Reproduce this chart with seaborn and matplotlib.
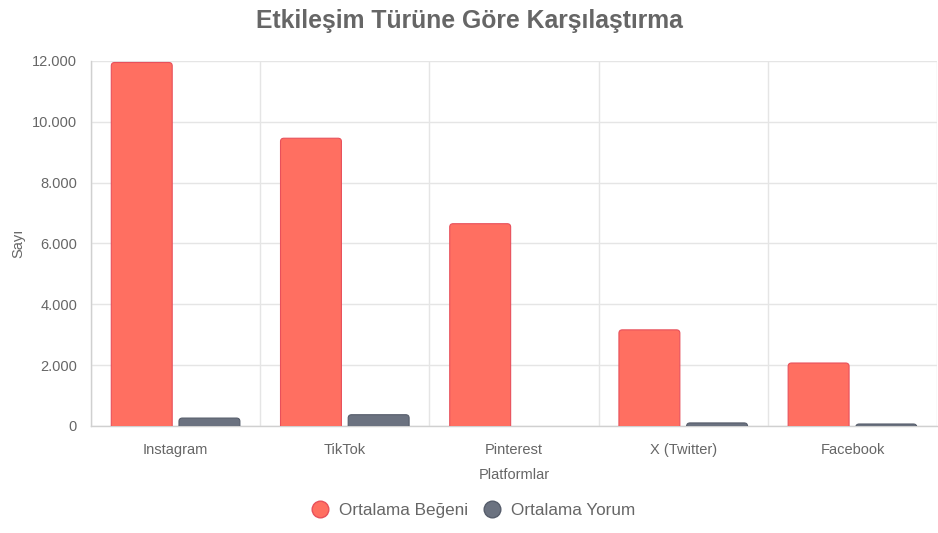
import pandas as pd
import matplotlib
matplotlib.use('Agg')
import matplotlib.pyplot as plt
import seaborn as sns
import numpy as np
from matplotlib.lines import Line2D
from matplotlib.patches import FancyBboxPatch
from matplotlib.ticker import FuncFormatter

platforms = ['Instagram', 'TikTok', 'Pinterest', 'X (Twitter)', 'Facebook']
avg_likes = [11950, 9460, 6650, 3160, 2070]
avg_comments = [260, 370, 0, 100, 65]
series_names = ['Ortalama Beğeni', 'Ortalama Yorum']

sns.set_theme(style="white")
plt.rcParams['font.family'] = ['Liberation Sans', 'DejaVu Sans']

df = pd.DataFrame({
    'platform': platforms * 2,
    'value': avg_likes + avg_comments,
    'series': [series_names[0]] * len(platforms) + [series_names[1]] * len(platforms),
})

fill_colors = ['#FF6F61', '#6B7280']
edge_colors = ['#E8505B', '#565D6B']
text_color = '#666666'
grid_color = '#E5E5E5'

fig = plt.figure(figsize=(9.38, 5.33), dpi=100)
ax = fig.add_axes([0.097, 0.2008, 0.902, 0.6848])

sns.barplot(data=df, x='platform', y='value', hue='series', palette=fill_colors,
            saturation=1, width=0.8, gap=0.1, ax=ax, legend=False, zorder=3)

n = len(platforms)
ax.set_xlim(-0.5, n - 0.5)
ax.set_ylim(0, 12000)

# swap plain rectangles for ones with rounded top corners
r_x = 0.02
r_y = r_x * 5500
for i, patch in enumerate(list(ax.patches[:2 * n])):
    x, y = patch.get_x(), patch.get_y()
    w, h = patch.get_width(), patch.get_height()
    patch.set_visible(False)
    if h <= 0:
        continue
    s = i // n
    box = FancyBboxPatch((x, y - r_y), w, h + r_y,
                         boxstyle=f"round,pad=0,rounding_size={r_x}",
                         mutation_aspect=r_y / r_x,
                         facecolor=fill_colors[s], edgecolor=edge_colors[s],
                         linewidth=0.8, zorder=3)
    ax.add_patch(box)

ax.set_yticks(np.arange(0, 12001, 2000))
ax.yaxis.set_major_formatter(FuncFormatter(lambda v, p: f'{int(v):,}'.replace(',', '.')))

# vertical grid lines at category boundaries
ax.set_xticks(np.arange(-0.5, n, 1), minor=True)
ax.tick_params(axis='x', which='minor', length=8, color=grid_color, width=1)
ax.tick_params(axis='x', which='major', length=0, pad=12, labelsize=10.5, labelcolor=text_color)
ax.tick_params(axis='y', which='major', length=7, color=grid_color, width=1, pad=3,
               labelsize=10.5, labelcolor=text_color)
ax.grid(axis='x', which='minor', color=grid_color, linewidth=1, zorder=0)
ax.grid(axis='y', which='major', color=grid_color, linewidth=1, zorder=0)
ax.set_axisbelow(True)

for side in ['top', 'right']:
    ax.spines[side].set_visible(False)
for side in ['left', 'bottom']:
    ax.spines[side].set_color('#D0D0D0')
    ax.spines[side].set_linewidth(1)

ax.set_xlabel('Platformlar', fontsize=10.5, color=text_color, labelpad=8)
ax.set_ylabel('Sayı', fontsize=10.5, color=text_color, labelpad=5)

fig.suptitle('Etkileşim Türüne Göre Karşılaştırma', x=0.5, y=0.983, fontsize=17.8,
             fontweight='bold', color=text_color)

handles = [Line2D([0], [0], marker='o', linestyle='', markersize=12,
                  markerfacecolor=fill_colors[i], markeredgecolor=edge_colors[i])
           for i in range(2)]
fig.legend(handles, series_names, loc='center', bbox_to_anchor=(0.5, 0.043), ncol=2,
           frameon=False, fontsize=12.3, labelcolor=text_color, handletextpad=0.1,
           columnspacing=0.4)

fig.savefig('out.png', dpi=100)
